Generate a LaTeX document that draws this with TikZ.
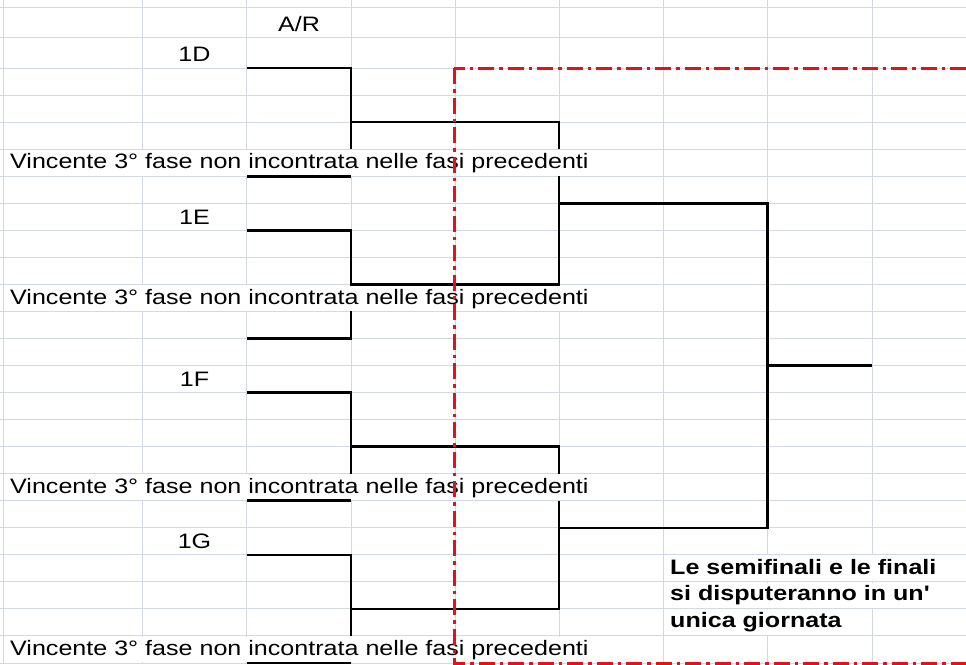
\documentclass[tikz,border=0pt]{standalone}
\usepackage{fontspec}
\setmainfont{Liberation Sans}[FakeStretch=1.2]
\definecolor{gridc}{RGB}{212,216,228}
\definecolor{xlred}{RGB}{228,18,24}
\tikzset{
  gridline/.style={draw=gridc, line width=1pt},
  bracket/.style={draw=black, line width=2.6pt},
  mask/.style={fill=white, draw=none},
  cell/.style={inner sep=0pt, font=\fontsize{20.9}{26.2}\selectfont},
  redbox/.style={draw=xlred, line width=3pt, dash pattern=on 16pt off 5pt on 3.5pt off 5pt}
}
\begin{document}
\begin{tikzpicture}[x=1pt, y=-1pt]
\clip (0,0) rectangle (966,664);
\fill[white] (0,0) rectangle (966,664);
\foreach \c in {3,142,246.5,351,455,559,663,767.5,872}
  \draw[gridline] (\c,0) -- (\c,664);
\foreach \r in {7,37}
  \draw[gridline] (0,\r) -- (966,\r);
\foreach \k in {0,...,22}
  \draw[gridline] (0,{68+27.045*\k}) -- (966,{68+27.045*\k});
\foreach \t in {149.1,284.4,473.7,635.9}
  \fill[mask] (4,{\t+0.6}) rectangle (661,{\t+26.4});
\foreach \t in {554.8,581.9}
  \fill[mask] (664,{\t+0.6}) rectangle (966,{\t+26.4});
\fill[mask] (664,609.5) rectangle (870,635.3);

\coordinate (dl) at (246.5,68);
\coordinate (dg) at (351,149.1);
\coordinate (dr) at (351,176.2);
\coordinate (db) at (246.5,176.2);
\coordinate (el) at (246.5,230.3);
\coordinate (eg) at (351,311.4);
\coordinate (eb) at (246.5,338.5);
\coordinate (fl) at (246.5,392.5);
\coordinate (fg) at (351,473.7);
\coordinate (fr) at (351,500.7);
\coordinate (fb) at (246.5,500.7);
\coordinate (gl) at (246.5,554.8);
\coordinate (gg) at (351,635.9);
\coordinate (gr) at (351,663);
\coordinate (gb) at (246.5,663);
\coordinate (de1) at (351,122.1);
\coordinate (de2) at (559,149.1);
\coordinate (de3) at (559,176.2);
\coordinate (de4) at (351,284.4);
\coordinate (fg1) at (351,446.6);
\coordinate (fg2) at (559,473.7);
\coordinate (fg3) at (559,500.7);
\coordinate (fg4) at (351,608.9);
\coordinate (s1) at (559,203.2);
\coordinate (s2) at (767.5,527.8);
\coordinate (s3) at (559,527.8);
\coordinate (w1) at (767.5,365.5);
\coordinate (w2) at (872,365.5);

\draw[bracket] (dl) -| (dg);
\draw[bracket] (dr) -- (db);
\draw[bracket] (de1) -| (de2);
\draw[bracket] (de3) |- (de4) |- (el);
\draw[bracket] (eg) |- (eb);
\draw[bracket] (fl) -| (fg);
\draw[bracket] (fr) -- (fb);
\draw[bracket] (fg1) -| (fg2);
\draw[bracket] (fg3) |- (fg4);
\draw[bracket] (gl) -| (gg);
\draw[bracket] (gr) -- (gb);
\draw[bracket] (s1) -| (s2) -- (s3);
\draw[bracket] (w1) -- (w2);

\node[cell, anchor=base] (ar) at (299,31.7) {A/R};
\node[cell, anchor=base] (d) at (194.5,61) {1D};
\node[cell, anchor=base] (e) at (194.5,224) {1E};
\node[cell, anchor=base] (f) at (194.5,386.5) {1F};
\node[cell, anchor=base] (g) at (194.5,548.3) {1G};
\node[cell, anchor=base west] (v1) at (10,168.5) {Vincente 3° fase non incontrata nelle fasi precedenti};
\node[cell, anchor=base west] (v2) at (10,304.5) {Vincente 3° fase non incontrata nelle fasi precedenti};
\node[cell, anchor=base west] (v3) at (10,493.5) {Vincente 3° fase non incontrata nelle fasi precedenti};
\node[cell, anchor=base west] (v4) at (10,655.5) {Vincente 3° fase non incontrata nelle fasi precedenti};
\node[cell, anchor=base west, align=left, font=\fontsize{20.9}{26.2}\selectfont\bfseries] (note) at (670,627)
  {Le semifinali e le finali\\si disputeranno in un\textquotesingle\\unica giornata};

\draw[redbox] (454,68) rectangle (1000,663);
\end{tikzpicture}
\end{document}
